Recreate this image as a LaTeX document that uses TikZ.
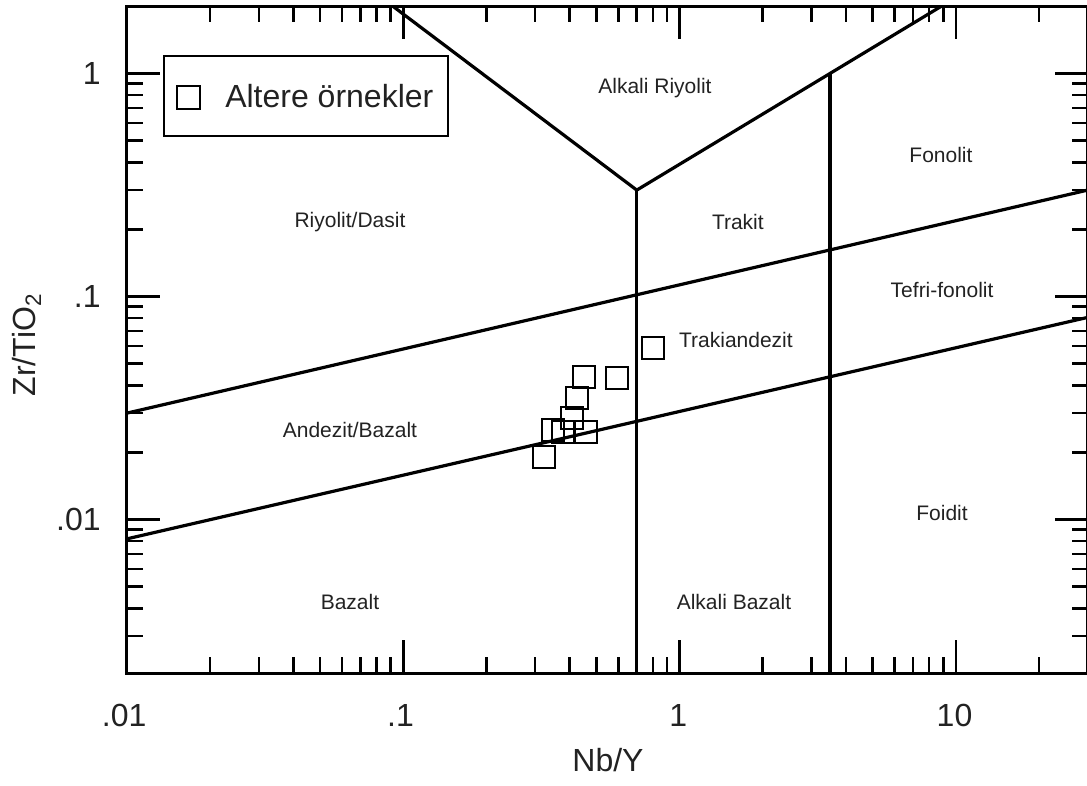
\documentclass[tikz,border=0pt]{standalone}
\usepackage{fontspec}
\setmainfont{Liberation Sans}
\usetikzlibrary{calc}

\begin{document}
\begin{tikzpicture}[x=138.15pt,y=111.5pt]
% all coordinates are log10 values
\useasboundingbox (-2.4596,-3.1906) rectangle (1.4745,0.3296);

\definecolor{inkgray}{RGB}{34,34,34}
\tikzset{
  axisline/.style={line width=1.5pt},
  fieldline/.style={line width=1.6pt},
  tickmark/.style={line width=1.3pt},
  sample/.style={draw, rectangle, line width=1pt, minimum size=11pt, inner sep=0pt},
  fieldlabel/.style={font=\fontsize{10.5}{12}\selectfont, text=inkgray},
  axislabel/.style={font=\fontsize{16}{19}\selectfont, text=inkgray},
}

\coordinate (P_ll) at (-2,{log10(0.002)});
\coordinate (P_ur) at ({log10(30)},{log10(2)});
\draw[axisline] (P_ll) rectangle (P_ur);

% ticks, Nb/Y
\foreach \d in {-2,-1,0} \foreach \k in {2,...,9} {
  \draw[tickmark] ({\d+log10(\k)},{log10(0.002)}) -- ++(0,8pt);
  \draw[tickmark] ({\d+log10(\k)},{log10(2)}) -- ++(0,-8pt);
}
\draw[tickmark] ({1+log10(2)},{log10(0.002)}) -- ++(0,8pt);
\draw[tickmark] ({1+log10(2)},{log10(2)}) -- ++(0,-8pt);
\foreach \d in {-1,0,1} {
  \draw[tickmark] (\d,{log10(0.002)}) -- ++(0,16.5pt);
  \draw[tickmark] (\d,{log10(2)}) -- ++(0,-16.5pt);
}
% ticks, Zr/TiO2
\foreach \d/\kmin in {-3/3,-2/2,-1/2} \foreach \k in {\kmin,...,9} {
  \draw[tickmark] (-2,{\d+log10(\k)}) -- ++(8pt,0);
  \draw[tickmark] ({log10(30)},{\d+log10(\k)}) -- ++(-8pt,0);
}
\foreach \d in {-2,-1,0} {
  \draw[tickmark] (-2,\d) -- ++(16.5pt,0);
  \draw[tickmark] ({log10(30)},\d) -- ++(-16.5pt,0);
}

% field boundaries
\coordinate (P_apex) at ({log10(0.7)},{log10(0.3)});
\coordinate (P_top_l) at (-1.037,{log10(2)});
\coordinate (P_top_r) at (0.9465,{log10(2)});
\coordinate (P_pho) at ({log10(3.5)},0);
\draw[fieldline] (P_top_l) -- (P_apex) -- (P_top_r);
\draw[fieldline] (P_apex) -- (P_apex |- P_ll);
\draw[fieldline] (P_pho) -- (P_pho |- P_ll);
\draw[fieldline] (-2,{log10(0.03)}) -- ({log10(30)},{log10(0.3)});
\draw[fieldline] (-2,{log10(0.008)}) -- ({log10(30)},{log10(0.08)});

\node[fieldlabel] (f_ar) at (-0.089,-0.065) {Alkali Riyolit};
\node[fieldlabel] (f_rd) at (-1.193,-0.666) {Riyolit/Dasit};
\node[fieldlabel] (f_tr) at (0.211,-0.666) {Trakit};
\node[fieldlabel] (f_fo) at (0.946,-0.365) {Fonolit};
\node[fieldlabel] (f_tf) at (0.950,-0.971) {Tefri-fonolit};
\node[fieldlabel] (f_ta) at (0.204,-1.195) {Trakiandezit};
\node[fieldlabel] (f_ab) at (-1.193,-1.599) {Andezit/Bazalt};
\node[fieldlabel] (f_fd) at (0.950,-1.971) {Foidit};
\node[fieldlabel] (f_ba) at (-1.193,-2.370) {Bazalt};
\node[fieldlabel] (f_ak) at (0.197,-2.370) {Alkali Bazalt};

% samples
\foreach \nb/\zr [count=\i] in {0.80/0.0588, 0.45/0.0435, 0.593/0.0427, 0.425/0.0343,
    0.408/0.0285, 0.348/0.0252, 0.378/0.0247, 0.458/0.0247, 0.323/0.0189}
  \node[sample] (s\i) at ({log10(\nb)},{log10(\zr)}) {};

% legend
\node[draw, line width=1.2pt, minimum width=142pt, minimum height=40pt, inner sep=0pt,
  anchor=north west] (legend) at (-1.870,0.083) {};
\node[sample, minimum size=11.5pt] (leg_sym) at ([xshift=12.75pt,yshift=-0.5pt]legend.west) {};
\node[axislabel, anchor=west, inner sep=0pt] (leg_txt) at ([xshift=31pt]legend.west) {Altere örnekler};

% axis labels
\node[axislabel, anchor=east, inner sep=0pt] (yl_0) at (-2.094,0) {1};
\node[axislabel, anchor=east, inner sep=0pt] (yl_1) at (-2.094,-1) {.1};
\node[axislabel, anchor=east, inner sep=0pt] (yl_2) at (-2.094,-2) {.01};
\node[axislabel] (xl_2) at (-2.01,-2.877) {.01};
\node[axislabel] (xl_1) at (-1.01,-2.877) {.1};
\node[axislabel] (xl_0) at (-0.005,-2.877) {1};
\node[axislabel] (xl_10) at (0.995,-2.877) {10};
\node[axislabel] (xlab) at (-0.259,-3.078) {Nb/Y};
\node[axislabel, rotate=90] (ylab) at (-2.362,-1.217) {Zr/TiO\textsubscript{2}};
\end{tikzpicture}
\end{document}
